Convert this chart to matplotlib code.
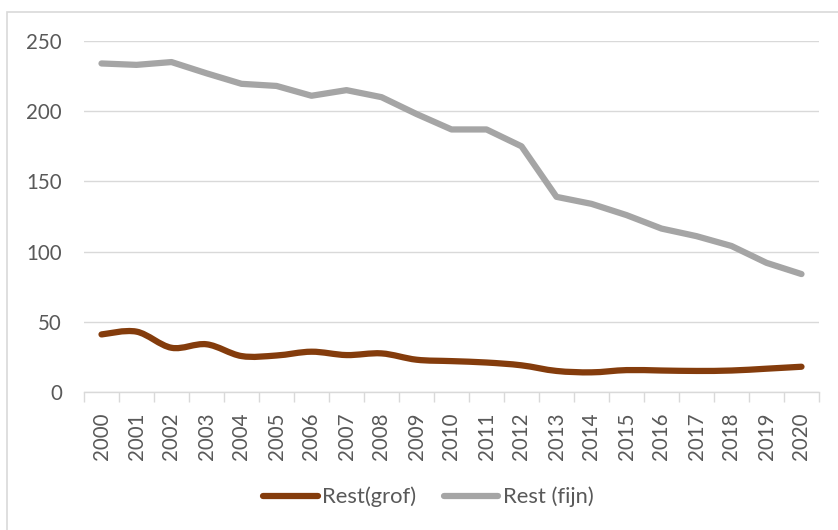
#!/usr/bin/env python
# -*- coding: utf8 -*-

'''Rest (grof) and Rest (fijn) per year, 2000-2020, Excel-style line chart'''

import matplotlib
matplotlib.use('Agg')
import matplotlib.pyplot as plt
from matplotlib.path import Path
from matplotlib.patches import PathPatch, Rectangle
from matplotlib.lines import Line2D

years = [str(y) for y in range(2000, 2021)]
rest_grof = [41, 43, 31.5, 34, 25.6, 26, 28.7, 26.3, 27.5, 23, 22,
             21, 19, 15, 14, 15.6, 15.3, 15, 15.3, 16.6, 18]
rest_fijn = [234, 233, 235, 227, 219.5, 218, 211, 215, 210, 198, 187,
             187, 175, 139, 134, 126, 116.4, 111, 104, 92, 84]
series_names = ['Rest(grof)', 'Rest (fijn)']
yticks = [0, 50, 100, 150, 200, 250]

BROWN = '#843C0C'
GREY = '#A5A5A5'
TEXT = '#595959'
GRID = '#D9D9D9'


def smooth_path(xs, ys):
    '''Excel-like smoothed line: Catmull-Rom converted to cubic Bezier'''
    pts = list(zip(xs, ys))
    verts = [pts[0]]
    codes = [Path.MOVETO]
    n = len(pts)
    for i in range(n - 1):
        p0 = pts[max(i - 1, 0)]
        p1 = pts[i]
        p2 = pts[i + 1]
        p3 = pts[min(i + 2, n - 1)]
        c1 = (p1[0] + (p2[0] - p0[0]) / 6.0, p1[1] + (p2[1] - p0[1]) / 6.0)
        c2 = (p2[0] - (p3[0] - p1[0]) / 6.0, p2[1] - (p3[1] - p1[1]) / 6.0)
        verts += [c1, c2, p2]
        codes += [Path.CURVE4] * 3
    return Path(verts, codes)


plt.rcParams['font.family'] = ['Lato', 'DejaVu Sans']
fig = plt.figure(figsize=(8.38, 5.30), dpi=100)
# chart area border (top and left edges visible, rest runs off the image)
fig.patches.append(Rectangle((7 / 838, -0.1), 1.2, 1 - 12 / 530 + 0.1,
                             transform=fig.transFigure, fill=False,
                             edgecolor=GRID, lw=1.2))

ax = fig.add_axes([84 / 838, 1 - 392 / 530, 735 / 838, 351 / 530])
x = list(range(len(years)))

# grey series: straight segments
ax.plot(x, rest_fijn, color=GREY, lw=4.5, solid_capstyle='round',
        solid_joinstyle='round', zorder=3)
# brown series: smoothed
ax.add_patch(PathPatch(smooth_path(x, rest_grof), fill=False, edgecolor=BROWN,
                       lw=4.5, capstyle='round', joinstyle='round', zorder=4))

ax.set_xlim(-0.5, len(years) - 0.5)
ax.set_ylim(0, 250)
ax.set_yticks(yticks)
ax.set_xticks(x)
ax.set_xticklabels(years, rotation=90)
ax.set_xticks([i - 0.5 for i in range(len(years) + 1)], minor=True)

ax.tick_params(axis='y', length=0, pad=16, labelsize=14.8, labelcolor=TEXT)
ax.tick_params(axis='x', which='major', length=0, pad=15, labelsize=14.8,
               labelcolor=TEXT)
ax.tick_params(axis='x', which='minor', length=7, width=1, color=GRID)

ax.grid(axis='y', color=GRID, lw=1)
ax.set_axisbelow(True)
for side in ['top', 'right', 'left']:
    ax.spines[side].set_visible(False)
ax.spines['bottom'].set_color(GRID)
ax.spines['bottom'].set_linewidth(1)

handles = [Line2D([0], [0], color=BROWN, lw=4.5, solid_capstyle='round'),
           Line2D([0], [0], color=GREY, lw=4.5, solid_capstyle='round')]
fig.legend(handles, series_names, loc='center', bbox_to_anchor=(0.511, 0.062),
           ncol=2, frameon=False, fontsize=15.8, labelcolor=TEXT,
           handlelength=2.5, handletextpad=0.2, columnspacing=1.25)

fig.savefig('out.png', dpi=100)
